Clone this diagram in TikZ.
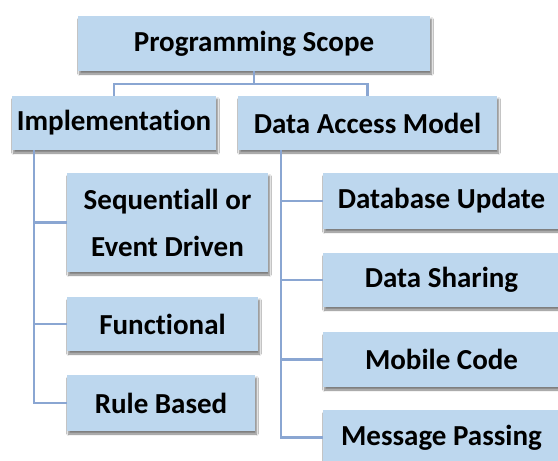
\documentclass[tikz,border=0pt]{standalone}
\usepackage{fontspec}
\setmainfont{Carlito}[Ligatures=NoCommon]
\usetikzlibrary{shadows.blur}
\definecolor{boxfill}{HTML}{BDD7EE}
\definecolor{linec}{HTML}{8AA6D2}
\tikzset{
  box/.style={fill=boxfill, draw=none, inner sep=0pt, align=center,
    font=\fontsize{29}{47}\selectfont\bfseries,
    blur shadow={shadow xshift=1.5pt, shadow yshift=-3pt, shadow blur steps=5, shadow opacity=50}},
  conn/.style={draw=linec, line width=2.2pt}
}
\begin{document}
\begin{tikzpicture}[x=1pt,y=-1pt]
\useasboundingbox (0,0) rectangle (558,461);
\fill[white] (0,0) rectangle (558,461);
\node[box, minimum width=352, minimum height=55] (top) at (254,43.5) {Programming Scope};
\node[box, minimum width=204, minimum height=54] (impl) at (114,123) {Implementation};
\node[box, minimum width=259, minimum height=54] (dam) at (367.5,123) {Data Access Model};
\node[box, minimum width=201, minimum height=99] (seq) at (167.5,222.5) {Sequentiall or\\Event Driven};
\node[box, minimum width=191, minimum height=54] (func) at (162.5,324) {Functional};
\node[box, minimum width=188, minimum height=56] (rule) at (161,403) {Rule Based};
\node[box, minimum width=237, minimum height=56] (dbu) at (441.5,201) {Database Update};
\node[box, minimum width=237, minimum height=54] (ds) at (441.5,280) {Data Sharing};
\node[box, minimum width=237, minimum height=55] (mc) at (441.5,359.5) {Mobile Code};
\node[box, minimum width=237, minimum height=55] (mp) at (441.5,437.5) {Message Passing};
\coordinate (mid) at ([yshift=-13pt]top.south);
\draw[conn] (top.south) -- (mid) -| (impl.north);
\draw[conn] (mid) -| (dam.north);
\coordinate (lt) at ([xshift=22pt]impl.south west);
\coordinate (rt) at ([xshift=43pt]dam.south west);
\draw[conn] (lt) |- (seq.west);
\draw[conn] (lt) |- (func.west);
\draw[conn] (lt) |- (rule.west);
\draw[conn] (rt) |- (dbu.west);
\draw[conn] (rt) |- (ds.west);
\draw[conn] (rt) |- (mc.west);
\draw[conn] (rt) |- (mp.west);
\end{tikzpicture}
\end{document}
